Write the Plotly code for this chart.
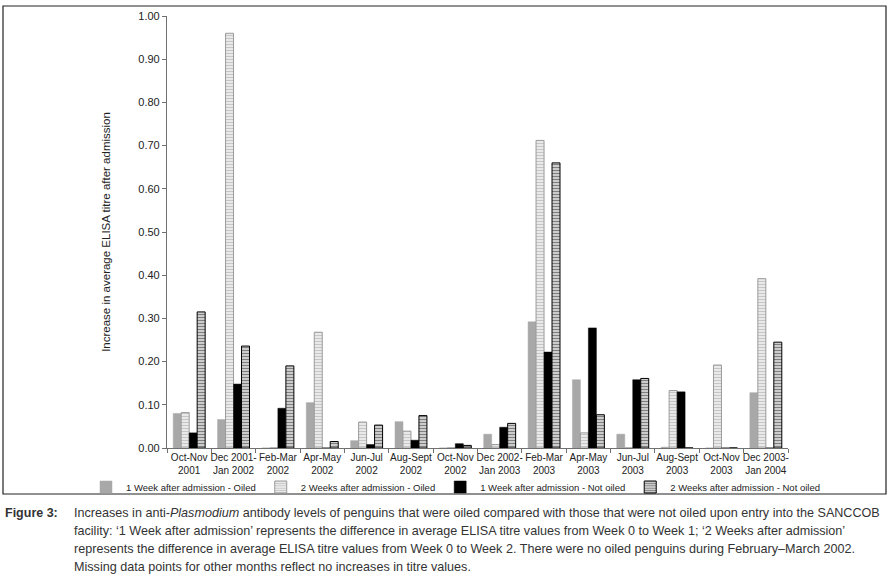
import plotly.graph_objects as go

categories = ["Oct-Nov<br>2001", "Dec 2001-<br>Jan 2002", "Feb-Mar<br>2002", "Apr-May<br>2002",
              "Jun-Jul<br>2002", "Aug-Sept<br>2002", "Oct-Nov<br>2002", "Dec 2002-<br>Jan 2003",
              "Feb-Mar<br>2003", "Apr-May<br>2003", "Jun-Jul<br>2003", "Aug-Sept<br>2003",
              "Oct-Nov<br>2003", "Dec 2003-<br>Jan 2004"]
week1_oiled = [0.080, 0.066, 0.0, 0.105, 0.017, 0.061, 0.0, 0.032, 0.292, 0.158, 0.032, 0.002, 0.0, 0.128]
week2_oiled = [0.082, 0.960, 0.0, 0.268, 0.060, 0.039, 0.0, 0.008, 0.712, 0.035, 0.0, 0.133, 0.192, 0.392]
week1_notoiled = [0.035, 0.148, 0.092, 0.0, 0.008, 0.018, 0.010, 0.048, 0.222, 0.278, 0.158, 0.130, 0.0, 0.0]
week2_notoiled = [0.315, 0.236, 0.190, 0.015, 0.053, 0.075, 0.006, 0.057, 0.660, 0.077, 0.161, 0.0, 0.0, 0.245]
series_names = ["1 Week after admission - Oiled", "2 Weeks after admission - Oiled",
                "1 Week after admission - Not oiled", "2 Weeks after admission - Not oiled"]

FONT = "Liberation Sans, Arial, sans-serif"

fig = go.Figure()
fig.add_trace(go.Bar(x=categories, y=week1_oiled, name=series_names[0],
                     marker=dict(color="#a8a8a8", line=dict(color="#a8a8a8", width=0.5))))
fig.add_trace(go.Bar(x=categories, y=week2_oiled, name=series_names[1],
                     marker=dict(color="white", line=dict(color="#9a9a9a", width=1),
                                 pattern=dict(shape="-", fgcolor="#8e8e8e", bgcolor="white",
                                              size=3, solidity=0.6))))
fig.add_trace(go.Bar(x=categories, y=week1_notoiled, name=series_names[2],
                     marker=dict(color="black", line=dict(color="black", width=0.5))))
fig.add_trace(go.Bar(x=categories, y=week2_notoiled, name=series_names[3],
                     marker=dict(color="white", line=dict(color="black", width=1),
                                 pattern=dict(shape="-", fgcolor="black", bgcolor="white",
                                              size=3, solidity=0.6))))

L, R, T, B = 167, 102, 16, 131
W, H = 890, 579
pw, ph = W - L - R, H - T - B

def px(x):
    return (x - L) / pw

def py(y):
    return (H - B - y) / ph

caption_lines = [
    "Increases in anti-<i>Plasmodium</i> antibody levels of penguins that were oiled compared with those that were not oiled upon entry into the SANCCOB",
    "facility: ‘1 Week after admission’ represents the difference in average ELISA titre values from Week 0 to Week 1; ‘2 Weeks after admission’",
    "represents the difference in average ELISA titre values from Week 0 to Week 2. There were no oiled penguins during February–March 2002.",
    "Missing data points for other months reflect no increases in titre values.",
]
annotations = [dict(text="<b>Figure 3:</b>", xref="paper", yref="paper", x=px(3), y=py(513),
                    xanchor="left", yanchor="middle", showarrow=False,
                    font=dict(family=FONT, size=12.5, color="#333333"))]
for i, line in enumerate(caption_lines):
    annotations.append(dict(text=line, xref="paper", yref="paper", x=px(72), y=py(513 + 18 * i),
                            xanchor="left", yanchor="middle", showarrow=False,
                            font=dict(family=FONT, size=12.6, color="#333333")))

shapes = [dict(type="rect", xref="paper", yref="paper", x0=px(3), x1=px(886), y0=py(494), y1=py(6),
               line=dict(color="#222222", width=1.2), layer="below")]

fig.update_layout(
    width=W, height=H,
    margin=dict(l=L, r=R, t=T, b=B, autoexpand=False),
    paper_bgcolor="white", plot_bgcolor="white",
    barmode="group", bargap=0.28, bargroupgap=0,
    font=dict(family=FONT, size=11, color="#222222"),
    showlegend=True,
    legend=dict(orientation="h", x=px(86), xanchor="left", y=py(487), yanchor="middle",
                font=dict(family=FONT, size=9.5, color="#222222"), itemwidth=30,
                tracegroupgap=0, traceorder="normal", bgcolor="rgba(0,0,0,0)"),
    xaxis=dict(type="category", showline=True, linecolor="#707070", linewidth=1.2,
               ticks="outside", tickson="boundaries", ticklen=4, tickcolor="#707070",
               tickangle=0, automargin=False,
               tickfont=dict(family=FONT, size=10, color="#222222"), showgrid=False),
    yaxis=dict(range=[0, 1.0], dtick=0.1, tickformat=".2f", showline=True, linecolor="#707070",
               linewidth=1.2, ticks="outside", ticklen=4, tickcolor="#707070", showgrid=False,
               zeroline=False, automargin=False,
               tickfont=dict(family=FONT, size=11, color="#222222"),
               title=dict(text="Increase in average ELISA titre after admission", standoff=25,
                          font=dict(family=FONT, size=11.5, color="#222222"))),
    annotations=annotations,
    shapes=shapes,
)

fig.write_html("out.html", config={"displayModeBar": False},
               post_script="document.body.style.margin='0px';")
